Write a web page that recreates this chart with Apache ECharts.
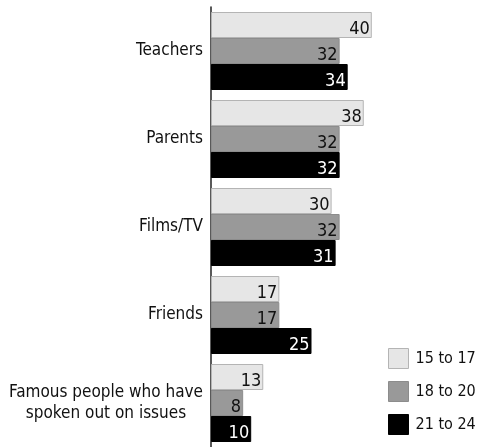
<!DOCTYPE html>
<html>
<head>
<meta charset="utf-8">
<script src="https://cdn.jsdelivr.net/npm/echarts@6/dist/echarts.min.js"></script>
<style>
  html, body { margin: 0; padding: 0; background: #fff; }
  #chart { width: 482px; height: 447px; }
</style>
</head>
<body>
<div id="chart"></div>
<script>
// Sources of information, by age group (%)
const categories = [
  'Teachers',
  'Parents',
  'Films/TV',
  'Friends',
  'Famous people who have\nspoken out on issues'
];
const seriesNames = ['15 to 17', '18 to 20', '21 to 24'];
const age15to17 = [40, 38, 30, 17, 13];
const age18to20 = [32, 32, 32, 17, 8];
const age21to24 = [34, 32, 31, 25, 10];

const FONT = '"Liberation Sans Narrow", "DejaVu Sans Condensed", "Roboto", sans-serif';

const fills = ['#e6e6e6', '#999999', '#000000'];
const borders = ['#b4b4b4', '#8c8c8c', '#000000'];
const labelColors = ['#111', '#111', '#fff'];
const dataSets = [age15to17, age18to20, age21to24];

const chart = echarts.init(document.getElementById('chart'));

chart.setOption({
  animation: false,
  backgroundColor: '#fff',
  grid: { left: 211, top: 7, width: 201, height: 443 },
  xAxis: {
    type: 'value', min: 0, max: 50,
    show: false
  },
  yAxis: {
    type: 'category',
    data: categories,
    inverse: true,
    axisLine: { show: true, lineStyle: { color: '#222', width: 1.5 } },
    axisTick: { show: false },
    axisLabel: {
      margin: 8,
      color: '#111',
      fontFamily: FONT,
      fontSize: 17,
      lineHeight: 21,
      formatter: v => '{c|' + v + '}',
      rich: { c: { align: 'center', fontFamily: FONT, fontSize: 17, lineHeight: 21, color: '#111' } }
    }
  },
  legend: {
    orient: 'vertical',
    left: 383,
    top: 343,
    itemWidth: 20,
    itemHeight: 20,
    itemGap: 12,
    icon: 'rect',
    textStyle: { fontFamily: FONT, fontSize: 16, color: '#111', padding: [0, 0, 0, 2] },
    data: seriesNames.map((n, i) => ({
      name: n,
      itemStyle: { color: fills[i], borderColor: borders[i], borderWidth: 1 }
    }))
  },
  series: seriesNames.map((name, i) => ({
    name,
    type: 'bar',
    barWidth: 26,
    barGap: '0%',
    data: dataSets[i],
    itemStyle: { color: fills[i], borderColor: borders[i], borderWidth: 1 },
    label: {
      show: true,
      position: 'insideRight',
      distance: 2,
      offset: [0, 4],
      color: labelColors[i],
      fontFamily: FONT,
      fontSize: 18
    }
  }))
});
</script>
</body>
</html>
